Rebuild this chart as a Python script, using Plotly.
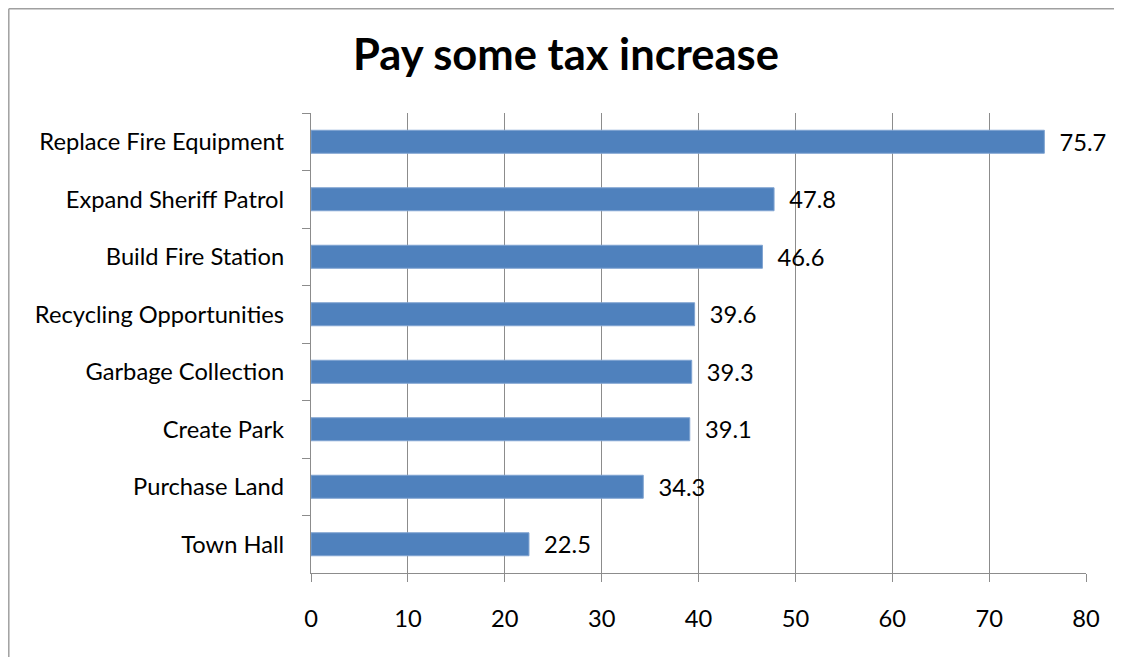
import plotly.graph_objects as go

categories = ["Replace Fire Equipment", "Expand Sheriff Patrol", "Build Fire Station",
              "Recycling Opportunities", "Garbage Collection", "Create Park",
              "Purchase Land", "Town Hall"]
values = [75.7, 47.8, 46.6, 39.6, 39.3, 39.1, 34.3, 22.5]
x_ticks = [0, 10, 20, 30, 40, 50, 60, 70, 80]

OFF = 8  # page body margin
W, H = 1122 - OFF, 657 - OFF
L, T = 311 - OFF, 113 - OFF
R = W - (1086 - OFF)
B = H - (573 - OFF)
pw, ph = W - L - R, H - T - B

def px_x(p):
    return (p - OFF - L) / pw

def px_y(p):
    return 1 - (p - OFF - T) / ph

FONT = "Lato, sans-serif"
FS = 23.7

fig = go.Figure(go.Bar(
    y=categories, x=values, orientation="h",
    marker=dict(color="#4F81BD", line=dict(color="#7FA3D1", width=1)),
    text=["\u00a0\u00a0" + f"{v:.1f}" for v in values], textposition="outside",
    constraintext="none",
    textfont=dict(family=FONT, size=FS, color="#000000"),
    cliponaxis=False, width=0.4,
))

border = dict(color="#A0A0A0", width=1.5)
fig.update_layout(
    width=W, height=H,
    margin=dict(l=L, r=R, t=T, b=B),
    paper_bgcolor="white", plot_bgcolor="white",
    title=dict(text="<b>Pay some tax increase</b>", x=(566 - OFF) / W, xref="container", xanchor="center",
               y=1 - (55 - OFF) / H, yref="container", yanchor="middle",
               font=dict(family=FONT, size=43.5, color="#000000")),
    showlegend=False,
    font=dict(family=FONT, size=FS, color="#000000"),
    shapes=[
        dict(type="line", xref="paper", yref="paper",
             x0=px_x(8.8), x1=px_x(1140), y0=px_y(8.8), y1=px_y(8.8), line=border, layer="below"),
        dict(type="line", xref="paper", yref="paper",
             x0=px_x(8.8), x1=px_x(8.8), y0=px_y(8.8), y1=px_y(670), line=border, layer="below"),
    ],
)

fig.update_xaxes(range=[0, 80], tickvals=x_ticks, ticktext=[str(t) for t in x_ticks],
                 showgrid=True, gridcolor="#8C8C8C", gridwidth=1.3,
                 showline=True, linecolor="#8C8C8C", linewidth=1.3,
                 ticks="outside", ticklen=8, tickcolor="#8C8C8C", tickwidth=1.3,
                 ticklabelstandoff=16, zeroline=False,
                 tickfont=dict(family=FONT, size=FS, color="#000000"))
fig.update_yaxes(categoryorder="array", categoryarray=categories, autorange="reversed",
                 showgrid=False, showline=True, linecolor="#8C8C8C", linewidth=1.3,
                 ticks="outside", tickson="boundaries", ticklen=8, tickcolor="#8C8C8C", tickwidth=1.3,
                 ticklabelstandoff=21,
                 tickfont=dict(family=FONT, size=FS, color="#000000"))

fig.write_html("out.html")
